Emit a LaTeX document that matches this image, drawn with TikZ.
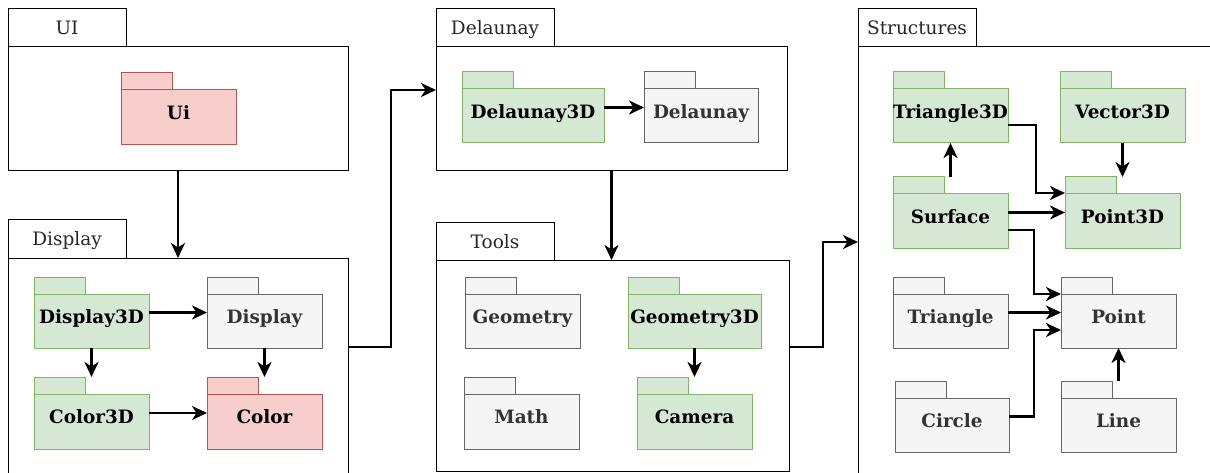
\documentclass[tikz,border=0pt]{standalone}
\usepackage{fontspec}
\setmainfont{DejaVu Serif}
\usetikzlibrary{arrows.meta,calc}

\definecolor{greenfill}{HTML}{D5E8D4}
\definecolor{greenline}{HTML}{82B366}
\definecolor{redfill}{HTML}{F8CECC}
\definecolor{redline}{HTML}{B85450}
\definecolor{grayfill}{HTML}{F5F5F5}
\definecolor{grayline}{HTML}{666666}
\definecolor{graytext}{HTML}{333333}

\tikzset{
  box/.style={inner sep=0pt, outer sep=0pt, anchor=north west},
  frame/.style={draw=black, fill=white, line width=1pt},
  green pkg/.style={fill=greenfill, draw=greenline, line width=1pt},
  red pkg/.style={fill=redfill, draw=redline, line width=1pt},
  gray pkg/.style={fill=grayfill, draw=grayline, line width=1pt},
  green name/.style={text=black},
  red name/.style={text=black},
  gray name/.style={text=graytext},
  pkgname/.style={font=\bfseries\fontsize{18.4}{22}\selectfont,
    text height=13.4pt, text depth=0pt, inner sep=0pt},
  title/.style={font=\fontsize{18.5}{22}\selectfont, text=black!85,
    text height=13.4pt, text depth=0pt, inner sep=0pt},
  wire/.style={line width=2.6pt, -{Stealth[length=15pt,width=14pt,inset=4.5pt]}},
}

% package: name, kind, x, y, width, height, label
\newcommand\package[7]{%
  \node[box, minimum width=#5pt, minimum height=#6pt] (#1) at (#3,#4) {};
  \draw[#2 pkg] (#1.north west) rectangle ++(51,17);
  \draw[#2 pkg] ([yshift=-17pt]#1.north west) rectangle (#1.south east);
  \node[pkgname, #2 name] (#1-name) at ([yshift=-4pt]#1.center) {#7};
}

% container: name, x, y, width, height, tab height, body height, title
\newcommand\container[8]{%
  \node[box, minimum width=#4pt, minimum height=#5pt] (#1) at (#2,#3) {};
  \draw[frame] (#1.north west) rectangle ++(118,#6);
  \node[box, frame, minimum width=#4pt, minimum height=#7pt] (#1-body)
    at ([yshift=-#6pt]#1.north west) {};
  \node[title] (#1-title) at ($(#1.north west)+(59,#6/2)$) {#8};
}

\begin{document}
\begin{tikzpicture}[x=1pt, y=-1pt]
\useasboundingbox (0,0) rectangle (1210,473);
\clip (0,0) rectangle (1210,473);

% outer groups
\container{ui}{8}{9}{340}{162}{38}{124}{UI}
\container{display}{8}{220}{340}{254}{38}{216}{Display}
\container{delaunay}{436}{9}{351}{162}{38}{124}{Delaunay}
\container{tools}{436}{223}{353}{248}{37}{211}{Tools}
\container{structures}{858}{9}{360}{466}{38}{428}{Structures}

% UI
\package{uipkg}{red}{121}{73}{115}{72}{Ui}

% Display
\package{d3d}{green}{34}{277}{115}{71}{Display3D}
\package{dsp}{gray}{207}{277}{115}{71}{Display}
\package{c3d}{green}{34}{377}{115}{72}{Color3D}
\package{col}{red}{207}{377}{115}{72}{Color}

% Delaunay
\package{del3d}{green}{462}{72}{142}{71}{Delaunay3D}
\package{del}{gray}{644}{72}{114}{71}{Delaunay}

% Tools
\package{geo}{gray}{465}{277}{115}{71}{Geometry}
\package{geo3d}{green}{628}{277}{133}{71}{Geometry3D}
\package{math}{gray}{464}{377}{115}{72}{Math}
\package{cam}{green}{637}{377}{115}{72}{Camera}

% Structures
\package{tri3d}{green}{893}{72}{115}{71}{Triangle3D}
\package{vec}{green}{1060}{72}{125}{71}{Vector3D}
\package{surf}{green}{893}{177}{115}{71}{Surface}
\package{p3d}{green}{1065}{177}{115}{71}{Point3D}
\package{tri}{gray}{893}{277}{115}{71}{Triangle}
\package{pt}{gray}{1061}{277}{115}{71}{Point}
\package{circ}{gray}{895}{381}{114}{71}{Circle}
\package{line}{gray}{1061}{381}{115}{71}{Line}

% dependencies between groups
\draw[wire] (ui.south) -- (display-body.north);
\draw[wire] (display.east) -- ++(43,0) |- (delaunay.west);
\draw[wire] (delaunay.south) -- (delaunay.south |- tools-body.north);
\draw[wire] (tools.east) -- ++(34,0) |- (structures.west);

% dependencies inside Display
\draw[wire] (d3d.east) -- (dsp.west);
\draw[wire] (d3d.south) -- (c3d.north);
\draw[wire] (dsp.south) -- (col.north);
\draw[wire] (c3d.east) -- (col.west);

% Delaunay and Tools
\draw[wire] (del3d.east) -- (del.west);
\draw[wire] (geo3d.south) -- (cam.north);

% Structures
\draw[wire] (surf.north) -- (tri3d.south);
\draw[wire] (vec.south) -- (vec.south |- p3d.north);
\draw[wire] ([yshift=-17.5pt]tri3d.east) -- ++(28,0) |- ([yshift=19.5pt]p3d.west);
\draw[wire] (surf.east) -- (p3d.west);
\draw[wire] ([yshift=-17.5pt]surf.east) -- ++(26,0) |- ([yshift=18.5pt]pt.west);
\draw[wire] (tri.east) -- (pt.west);
\draw[wire] (circ.east) -- ++(25,0) |- ([yshift=-17.5pt]pt.west);
\draw[wire] (line.north) -- (pt.south);
\end{tikzpicture}
\end{document}
